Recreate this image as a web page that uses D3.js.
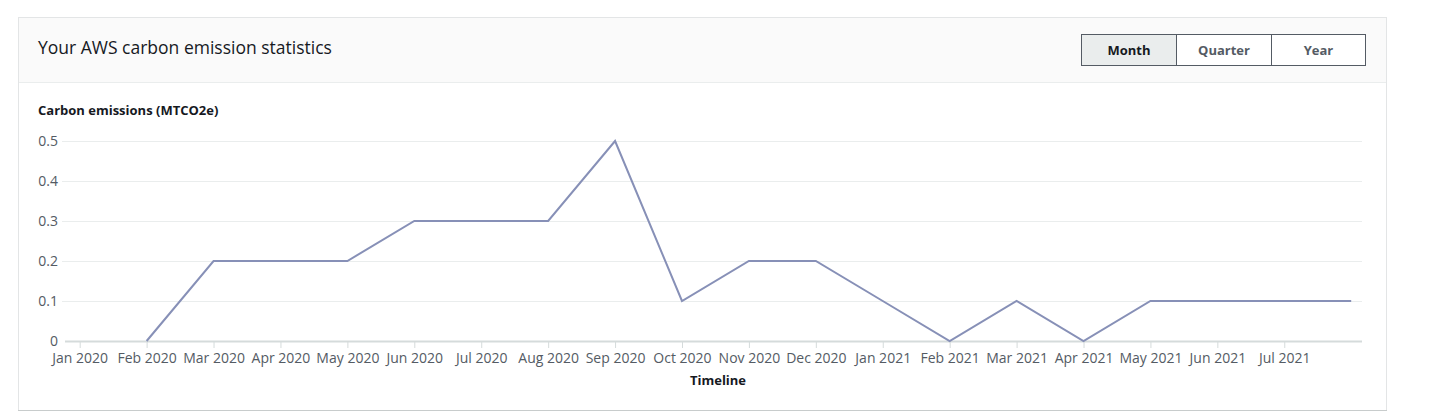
<!DOCTYPE html>
<html>
<head>
<meta charset="utf-8">
<script src="https://cdn.jsdelivr.net/npm/d3@7"></script>
<style>
  html, body { margin: 0; padding: 0; background: #ffffff; }
  svg { display: block; font-family: "Open Sans", "Noto Sans", sans-serif; }
</style>
</head>
<body>
<svg id="chart" width="1431" height="413"></svg>
<script>
// ---- data ----
const months = ["Jan 2020","Feb 2020","Mar 2020","Apr 2020","May 2020","Jun 2020","Jul 2020","Aug 2020","Sep 2020","Oct 2020","Nov 2020","Dec 2020","Jan 2021","Feb 2021","Mar 2021","Apr 2021","May 2021","Jun 2021","Jul 2021","Aug 2021"];
const tickLabels = ["Jan 2020","Feb 2020","Mar 2020","Apr 2020","May 2020","Jun 2020","Jul 2020","Aug 2020","Sep 2020","Oct 2020","Nov 2020","Dec 2020","Jan 2021","Feb 2021","Mar 2021","Apr 2021","May 2021","Jun 2021","Jul 2021"];
const dataMonths = ["Feb 2020","Mar 2020","Apr 2020","May 2020","Jun 2020","Jul 2020","Aug 2020","Sep 2020","Oct 2020","Nov 2020","Dec 2020","Jan 2021","Feb 2021","Mar 2021","Apr 2021","May 2021","Jun 2021","Jul 2021","Aug 2021"];
const emissions = [0,0.2,0.2,0.2,0.3,0.3,0.3,0.5,0.1,0.2,0.2,0.1,0,0.1,0,0.1,0.1,0.1,0.1];
const yTicks = [0,0.1,0.2,0.3,0.4,0.5];
const periods = ["Month","Quarter","Year"];

const svg = d3.select("#chart");

// ---- card ----
svg.append("rect").attr("x",18.5).attr("y",17.5).attr("width",1368).attr("height",393)
  .attr("fill","#ffffff").attr("stroke","#e3e5e6");
svg.append("rect").attr("x",19).attr("y",18).attr("width",1367).attr("height",64).attr("fill","#fafafa");
svg.append("line").attr("x1",19).attr("x2",1386).attr("y1",82.5).attr("y2",82.5).attr("stroke","#eaeded");
svg.append("line").attr("x1",18).attr("x2",1387).attr("y1",410.5).attr("y2",410.5).attr("stroke","#c8cccc");

svg.append("text").attr("x",38).attr("y",54).attr("font-size",17.5).attr("fill","#16191f")
  .text("Your AWS carbon emission statistics");

// ---- segmented buttons ----
const bx = d3.scalePoint().domain(periods).range([1081.5, 1271.5]);
const bw = 95;
const btn = svg.append("g");
periods.forEach((p,i) => {
  btn.append("rect").attr("x",bx(p)).attr("y",34.5).attr("width",i===2?94:bw).attr("height",31)
    .attr("fill", i===0 ? "#eaeded" : "#ffffff").attr("stroke", "#545b64");
  btn.append("text").attr("x",bx(p)+(i===2?47:bw/2)).attr("y",55).attr("text-anchor","middle")
    .attr("font-size",13).attr("font-weight",700).attr("fill", i===0 ? "#16191f" : "#545b64").text(p);
});

// ---- chart ----
svg.append("text").attr("x",38).attr("y",115).attr("font-size",13).attr("font-weight",700)
  .attr("fill","#16191f").text("Carbon emissions (MTCO2e)");

const x = d3.scalePoint().domain(months).range([79.7, 1351.2]);
const y = d3.scaleLinear().domain([0,0.5]).range([341,141]);

// grid
svg.append("g").selectAll("line").data(yTicks.filter(d=>d>0)).join("line")
  .attr("x1",62).attr("x2",1362).attr("y1",d=>y(d)+0.5).attr("y2",d=>y(d)+0.5)
  .attr("stroke","#eaeded").attr("stroke-width",1);

// y labels
svg.append("g").selectAll("text").data(yTicks).join("text")
  .attr("x",58).attr("y",d=>y(d)+5).attr("text-anchor","end").attr("font-size",14)
  .attr("fill","#545b64").text(d=>d===0?"0":d3.format(".1f")(d));

// x axis
const xAxis = d3.axisBottom(x).tickValues(tickLabels).tickSize(7).tickPadding(5);
const gx = svg.append("g").attr("transform","translate(0,341)").call(xAxis);
gx.select(".domain").remove();
gx.insert("line",":first-child").attr("x1",65).attr("x2",1362).attr("y1",0.5).attr("y2",0.5)
  .attr("stroke","#d5dbdb").attr("stroke-width",2);
gx.selectAll(".tick line").attr("stroke","#d5dbdb");
gx.selectAll(".tick text").attr("font-size",14).attr("fill","#545b64")
  .attr("font-family","'Open Sans', 'Noto Sans', sans-serif");

svg.append("text").attr("x",718).attr("y",385).attr("text-anchor","middle").attr("font-size",13)
  .attr("font-weight",700).attr("fill","#16191f").text("Timeline");

// line
const line = d3.line().x((d,i)=>x(dataMonths[i])).y(d=>y(d));
svg.append("path").datum(emissions).attr("d",line).attr("fill","none")
  .attr("stroke","#8790b7").attr("stroke-width",2).attr("stroke-linejoin","miter");
</script>
</body>
</html>
